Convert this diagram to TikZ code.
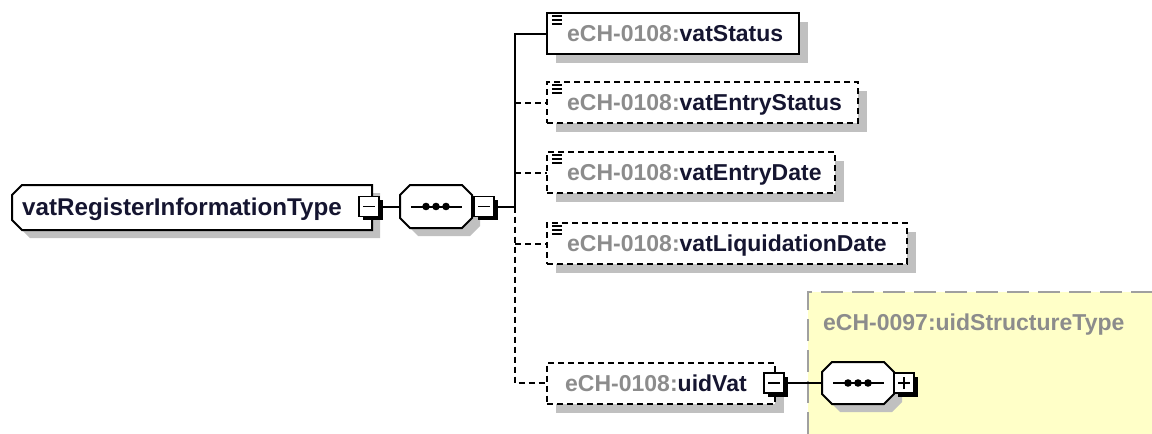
\documentclass[tikz,border=0pt]{standalone}
\usepackage{fontspec}
\setmainfont{Liberation Sans}
\usetikzlibrary{shadows}
\definecolor{shgray}{HTML}{C0C0C0}
\definecolor{pfx}{HTML}{8C8C8C}
\definecolor{nm}{HTML}{151530}
\definecolor{ylw}{HTML}{FFFFC8}
\definecolor{ybrd}{HTML}{A0A0A0}
\definecolor{ttl}{HTML}{8C8C8C}
\newcommand\octshape[7]{%
  \fill[shgray] ({#2+#6+8},{#3+8}) -- ({#4-#7+8},{#3+8}) -- ({#4+8},{#3+#7+8}) -- ({#4+8},{#5-#7+8}) -- ({#4-#7+8},{#5+8}) -- ({#2+#6+8},{#5+8}) -- ({#2+8},{#5-#6+8}) -- ({#2+8},{#3+#6+8}) -- cycle;
  \draw[octline] ({#2+#6},{#3}) -- ({#4-#7},{#3}) -- ({#4},{#3+#7}) -- ({#4},{#5-#7}) -- ({#4-#7},{#5}) -- ({#2+#6},{#5}) -- ({#2},{#5-#6}) -- ({#2},{#3+#6}) -- cycle;
  \node[inner sep=0pt, outer sep=0pt, minimum width={#4-#2}, minimum height={#5-#3}, anchor=north west] (#1) at (#2,#3) {};
}
\newcommand\seqdots[1]{%
  \draw[conn] ([xshift=11pt]#1.west) -- ([xshift=-10pt]#1.east);
  \fill ([xshift=-10pt]#1.center) circle (3.8pt);
  \fill (#1.center) circle (3.8pt);
  \fill ([xshift=10pt]#1.center) circle (3.8pt);
}
\newcommand\simpleicon[1]{%
  \draw[line width=1.8pt] ([shift={(5,3)}]#1.north west) -- ++(10,0);
  \draw[line width=1.8pt] ([shift={(5,7)}]#1.north west) -- ++(10,0);
  \draw[line width=1.8pt] ([shift={(5,11)}]#1.north west) -- ++(10,0);
}
\begin{document}
\begin{tikzpicture}[x=1pt,y=-1pt,
  conn/.style={line width=2pt},
  optconn/.style={conn,dash pattern=on 6pt off 4pt},
  octline/.style={draw=black,fill=white,line width=2pt,line join=miter},
  elembox/.style={draw=black,line width=2pt,fill=white,inner sep=0pt,outer sep=0pt,
    minimum height=41pt,anchor=north west,
    drop shadow={shadow xshift=9pt,shadow yshift=-9pt,fill=shgray,opacity=1}},
  optbox/.style={elembox,dash pattern=on 6pt off 4pt},
  expbox/.style={draw=black,line width=1.8pt,fill=white,inner sep=0pt,outer sep=0pt,
    minimum width=20pt,minimum height=20pt,
    drop shadow={shadow xshift=3.5pt,shadow yshift=-3.5pt,fill=black,opacity=1}},
  lbl/.style={anchor=base west,inner sep=0pt,font=\bfseries\fontsize{23}{28}\selectfont,text=nm},
  rootlbl/.style={lbl,font=\bfseries\fontsize{24.2}{28}\selectfont},
  ttllbl/.style={lbl,text=ttl}
]
\useasboundingbox (0,0) rectangle (1152,434);

% yellow complex type area
\fill[ylw] (808,292) rectangle (1152,434);
\node[inner sep=0pt,outer sep=0pt,minimum width=344pt,minimum height=142pt,anchor=north west] (ytype) at (808,292) {};
\draw[ybrd,line width=2.2pt,dash pattern=on 22pt off 9pt] (ytype.south west) -- (ytype.north west) -- (ytype.north east);
\node[ttllbl] (ttitle) at (823,330) {eCH-0097:uidStructureType};

% root
\octshape{root}{12}{185}{372}{230}{10}{0}
\node[rootlbl] (troot) at (22,215.5) {vatRegisterInformationType};
\node[expbox] (rm) at (369,206.5) {};
\draw[line width=1.8pt] ([xshift=4pt]rm.west) -- ([xshift=-4pt]rm.east);

% sequence
\octshape{seq}{400}{185}{472}{228}{10}{10}
\seqdots{seq}
\node[expbox] (sm) at (484,206.5) {};
\draw[line width=1.8pt] ([xshift=4pt]sm.west) -- ([xshift=-4pt]sm.east);
\draw[conn] (rm.east) -- (seq.west);

% children
\node[elembox,minimum width=252pt] (vs) at (547,13) {};
\node[optbox,minimum width=311pt] (ves) at (547,82) {};
\node[optbox,minimum width=288pt] (ved) at (547,152) {};
\node[optbox,minimum width=360pt] (vld) at (547,223) {};
\node[optbox,minimum width=228pt] (uid) at (547,362.5) {};
\simpleicon{vs}
\simpleicon{ves}
\simpleicon{ved}
\simpleicon{vld}
\node[lbl] (tvs) at (567,41.5) {\textcolor{pfx}{eCH-0108:}vatStatus};
\node[lbl] (tves) at (567,110.5) {\textcolor{pfx}{eCH-0108:}vatEntryStatus};
\node[lbl] (tved) at (567,180.5) {\textcolor{pfx}{eCH-0108:}vatEntryDate};
\node[lbl] (tvld) at (567,251.5) {\textcolor{pfx}{eCH-0108:}vatLiquidationDate};
\node[lbl] (tuid) at (565,391.5) {\textcolor{pfx}{eCH-0108:}uidVat};

% connectors
\coordinate (trunk) at (515,206.5);
\draw[conn] (sm.east) -- (trunk);
\draw[conn] (trunk) |- (vs.west);
\draw[optconn] (ves.west -| trunk) -- (ves.west);
\draw[optconn] (ved.west -| trunk) -- (ved.west);
\draw[optconn] (trunk) |- (uid.west);
\draw[optconn] (vld.west -| trunk) -- (vld.west);

% uidVat expansion
\node[expbox] (um) at (774,383) {};
\draw[line width=1.8pt] ([xshift=4pt]um.west) -- ([xshift=-4pt]um.east);
\octshape{yseq}{822}{362}{894}{404}{10}{10}
\seqdots{yseq}
\draw[conn] (um.east) -- (yseq.west);
\node[expbox] (yp) at (904,383) {};
\draw[line width=1.8pt] ([xshift=4pt]yp.west) -- ([xshift=-4pt]yp.east);
\draw[line width=1.8pt] ([yshift=4pt]yp.south) -- ([yshift=-4pt]yp.north);
\end{tikzpicture}
\end{document}
